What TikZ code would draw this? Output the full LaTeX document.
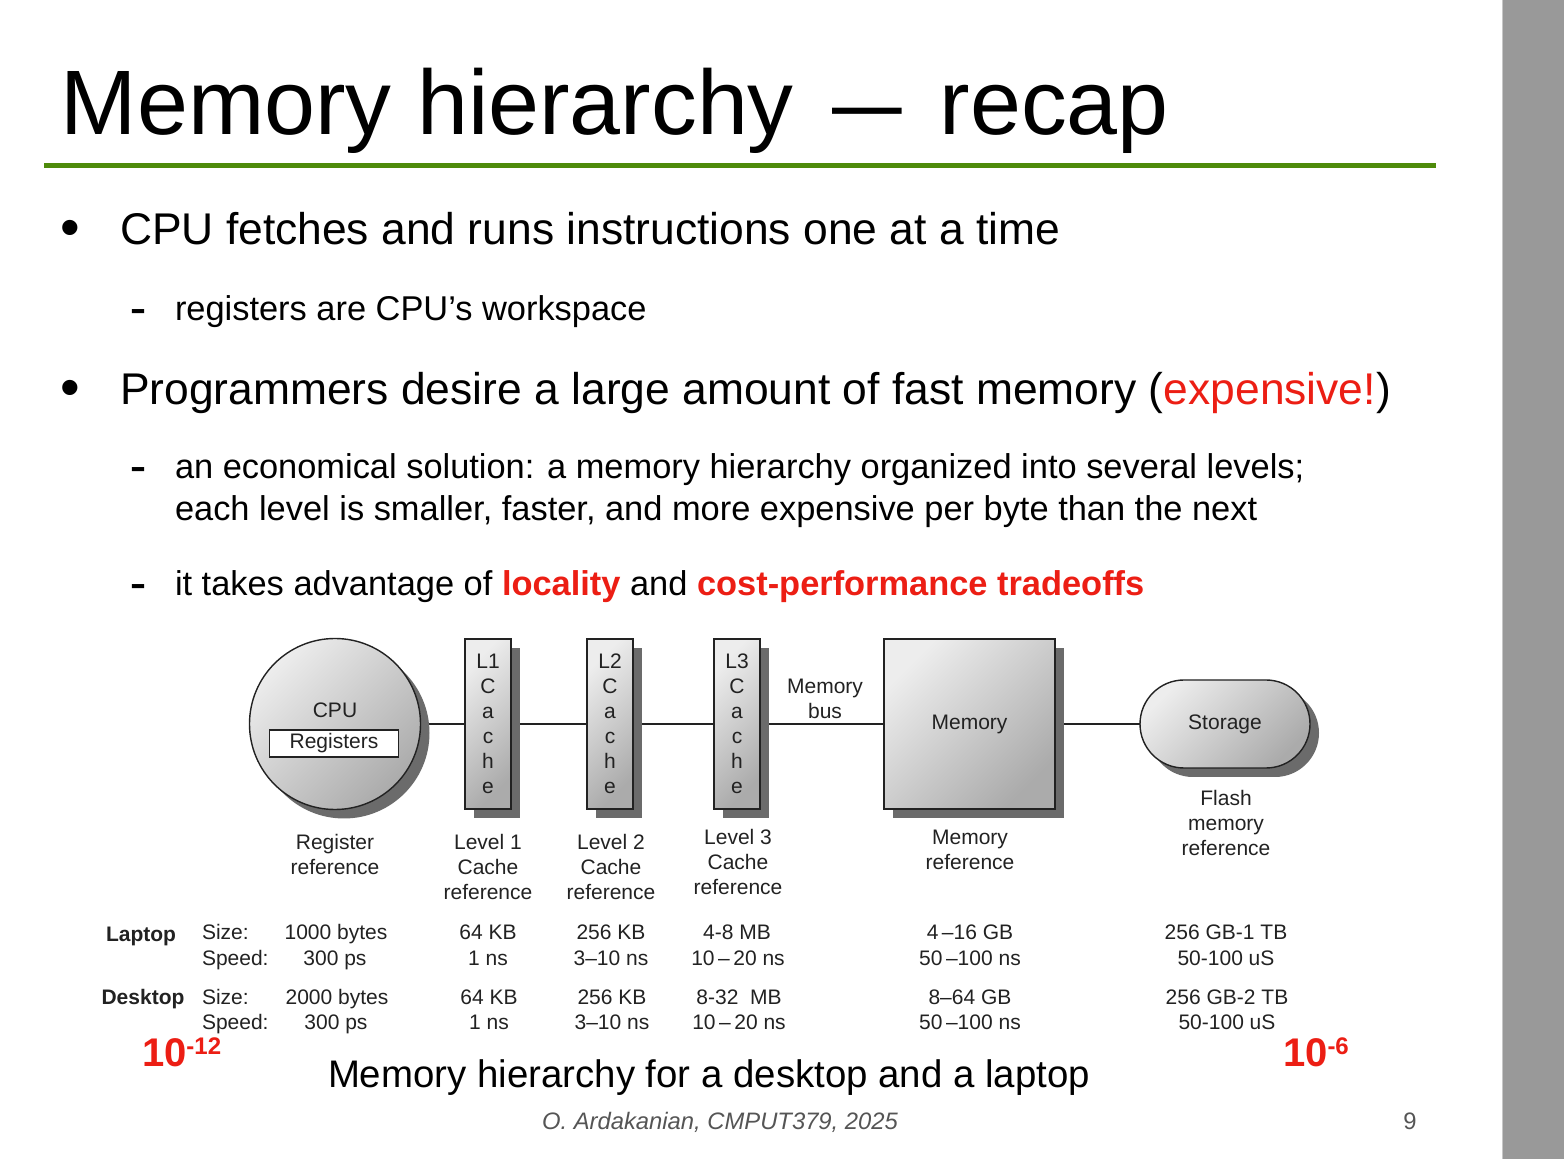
\documentclass[tikz,border=0pt]{standalone}
\usepackage{fontspec}
\usepackage{graphicx}
\setmainfont{Liberation Sans}
\usetikzlibrary{shapes.misc,shadows,backgrounds}

\definecolor{ink}{HTML}{222222}
\definecolor{rulegreen}{HTML}{4E8B0B}
\definecolor{hot}{HTML}{EC1E14}
\definecolor{side}{HTML}{999999}
\definecolor{foot}{HTML}{555555}

\begin{document}
\begin{tikzpicture}[x=0.5pt,y=-0.5pt,
  every node/.style={inner sep=0pt, outer sep=0pt},
  titletext/.style={font=\fontsize{45.8}{50}\selectfont, anchor=base west},
  lvlone/.style={font=\fontsize{22.2}{26}\selectfont, anchor=base west},
  lvltwo/.style={font=\fontsize{17.2}{20.5}\selectfont, anchor=base west},
  bulletmark/.style={lvlone, font=\fontsize{28}{30}\selectfont},
  diag/.style={font=\fontsize{10.5}{12.5}\selectfont, text=ink, align=center},
  cell/.style={diag, anchor=base},
  rowhead/.style={cell, font=\fontsize{10.5}{12.5}\selectfont\bfseries},
  rowkey/.style={diag, anchor=base west},
  unitbox/.style={draw=ink, line width=0.7pt,
    top color=black!7, bottom color=black!33, shading angle=45,
    drop shadow={shadow xshift=4.5pt, shadow yshift=-4.5pt, fill=black!58, opacity=1}},
  cachebox/.style={unitbox, diag, minimum width=23pt, minimum height=85pt},
  link/.style={draw=ink, line width=1pt},
  expo/.style={anchor=base west, text=hot, font=\bfseries},
]
\useasboundingbox (0,0) rectangle (1564,1159);

% side bar
\fill[side] (1502,0) rectangle (1564,1159);
\draw[black!22, line width=0.5pt] (1502.5,0) -- (1502.5,1159);

% title and rule
\node[titletext] (ttl) at (61,135) {Memory hierarchy\hspace{19.5pt}\scalebox{0.76}[1]{—}\hspace{18.5pt}recap};
\fill[rulegreen] (44,163) rectangle (1436,168);

% bullets
\node[bulletmark] (b1dot) at (60,247) {\textbullet};
\node[lvlone] (b1) at (120,245) {CPU fetches and runs instructions one at a time};
\node[lvltwo] (s1dash) at (130,321) {\scalebox{1.4}[1]{\textbf{-}}};
\node[lvltwo] (s1) at (175,321) {registers are CPU’s workspace};

\node[bulletmark] (b2dot) at (60,407) {\textbullet};
\node[lvlone] (b2) at (120,405) {Programmers desire a large amount of fast memory (\textcolor{hot}{expensive!})};
\node[lvltwo] (s2dash) at (130,479) {\scalebox{1.4}[1]{\textbf{-}}};
\node[lvltwo] (s2a) at (175,479) {an economical solution: a memory hierarchy organized into several levels;};
\node[lvltwo] (s2b) at (175,521) {each level is smaller, faster, and more expensive per byte than the next};
\node[lvltwo] (s3dash) at (130,596) {\scalebox{1.4}[1]{\textbf{-}}};
\node[lvltwo] (s3) at (175,596) {it takes advantage of \textcolor{hot}{\bfseries locality} and \textcolor{hot}{\bfseries cost-performance tradeoffs}};

% hierarchy units
\node[unitbox, circle, minimum size=85.5pt] (cpu) at (335,724) {};
\node[diag] (cpulbl) at (335,710) {CPU};
\node[diag, draw=ink, fill=white, line width=0.7pt, minimum width=64.5pt, minimum height=13.5pt] (regs) at (334,743.5) {Registers};

\node[cachebox] (l1) at (488,724) {L1\\C\\a\\c\\h\\e};
\node[cachebox] (l2) at (610,724) {L2\\C\\a\\c\\h\\e};
\node[cachebox] (l3) at (737,724) {L3\\C\\a\\c\\h\\e};
\node[unitbox, diag, minimum width=85.5pt, minimum height=85pt] (mem) at (969.5,724) {Memory};
\node[unitbox, diag, rounded rectangle, minimum width=85pt, minimum height=44pt] (sto) at (1225,724) {Storage};

\node[diag] (bus) at (825,698.5) {Memory\\bus};

% connectors behind the units and their shadows
\begin{pgfonlayer}{background}
  \fill[white] (0,0) rectangle (1502,1159);
  \draw[link] (cpu) -- (l1);
  \draw[link] (l1) -- (l2);
  \draw[link] (l2) -- (l3);
  \draw[link] (l3) -- (mem);
  \draw[link] (mem) -- (sto);
\end{pgfonlayer}

% level captions
\node[diag] (reglbl) at (335,854.5) {Register\\reference};
\node[diag] (l1lbl) at (488,867) {Level 1\\Cache\\reference};
\node[diag] (l2lbl) at (611,867) {Level 2\\Cache\\reference};
\node[diag] (l3lbl) at (738,862) {Level 3\\Cache\\reference};
\node[diag] (memlbl) at (970,849.5) {Memory\\reference};
\node[diag] (flashlbl) at (1226,823) {Flash\\memory\\reference};

% laptop rows
\node[rowhead] (lap) at (141,942) {Laptop};
\node[rowkey] (lapsize) at (202,939) {Size:};
\node[rowkey] (lapspeed) at (202,965) {Speed:};
\node[cell] (lapa) at (336,939) {1000 bytes};
\node[cell] (lapb) at (488,939) {64 KB};
\node[cell] (lapc) at (611,939) {256 KB};
\node[cell] (lapd) at (737,939) {4-8 MB};
\node[cell] (lape) at (970,939) {4\,–16 GB};
\node[cell] (lapf) at (1226,939) {256 GB-1 TB};
\node[cell] (lapsa) at (335,965) {300 ps};
\node[cell] (lapsb) at (488,965) {1 ns};
\node[cell] (lapsc) at (611,965) {3–10 ns};
\node[cell] (lapsd) at (738,965) {10\,–\,20 ns};
\node[cell] (lapse) at (970,965) {50\,–100 ns};
\node[cell] (lapsf) at (1226,965) {50-100 uS};

% desktop rows
\node[rowhead] (desk) at (143,1004) {Desktop};
\node[rowkey] (desksize) at (202,1004) {Size:};
\node[rowkey] (deskspeed) at (202,1029) {Speed:};
\node[cell] (deska) at (337,1004) {2000 bytes};
\node[cell] (deskb) at (489,1004) {64 KB};
\node[cell] (deskc) at (612,1004) {256 KB};
\node[cell] (deskd) at (739,1004) {8-32\ \ MB};
\node[cell] (deske) at (970,1004) {8–64 GB};
\node[cell] (deskf) at (1227,1004) {256 GB-2 TB};
\node[cell] (desksa) at (336,1029) {300 ps};
\node[cell] (desksb) at (489,1029) {1 ns};
\node[cell] (desksc) at (612,1029) {3–10 ns};
\node[cell] (desksd) at (739,1029) {10\,–\,20 ns};
\node[cell] (deskse) at (970,1029) {50\,–100 ns};
\node[cell] (desksf) at (1227,1029) {50-100 uS};

% orders of magnitude
\node[expo] (explo) at (142,1066) {\fontsize{20}{22}\selectfont 10\raisebox{6pt}{\fontsize{12}{14}\selectfont -12}};
\node[expo] (exphi) at (1283,1066) {\fontsize{20}{22}\selectfont 10\raisebox{6pt}{\fontsize{12}{14}\selectfont -6}};

% caption and footer
\node[font=\fontsize{19.2}{22}\selectfont, anchor=base] (cap) at (709,1087) {Memory hierarchy for a desktop and a laptop};
\node[font=\fontsize{11.9}{14}\selectfont\itshape, text=foot, anchor=base] (ft) at (720,1129) {O. Ardakanian, CMPUT379, 2025};
\node[font=\fontsize{11.9}{14}\selectfont, text=foot, anchor=base] (pg) at (1410,1129) {9};
\end{tikzpicture}
\end{document}
